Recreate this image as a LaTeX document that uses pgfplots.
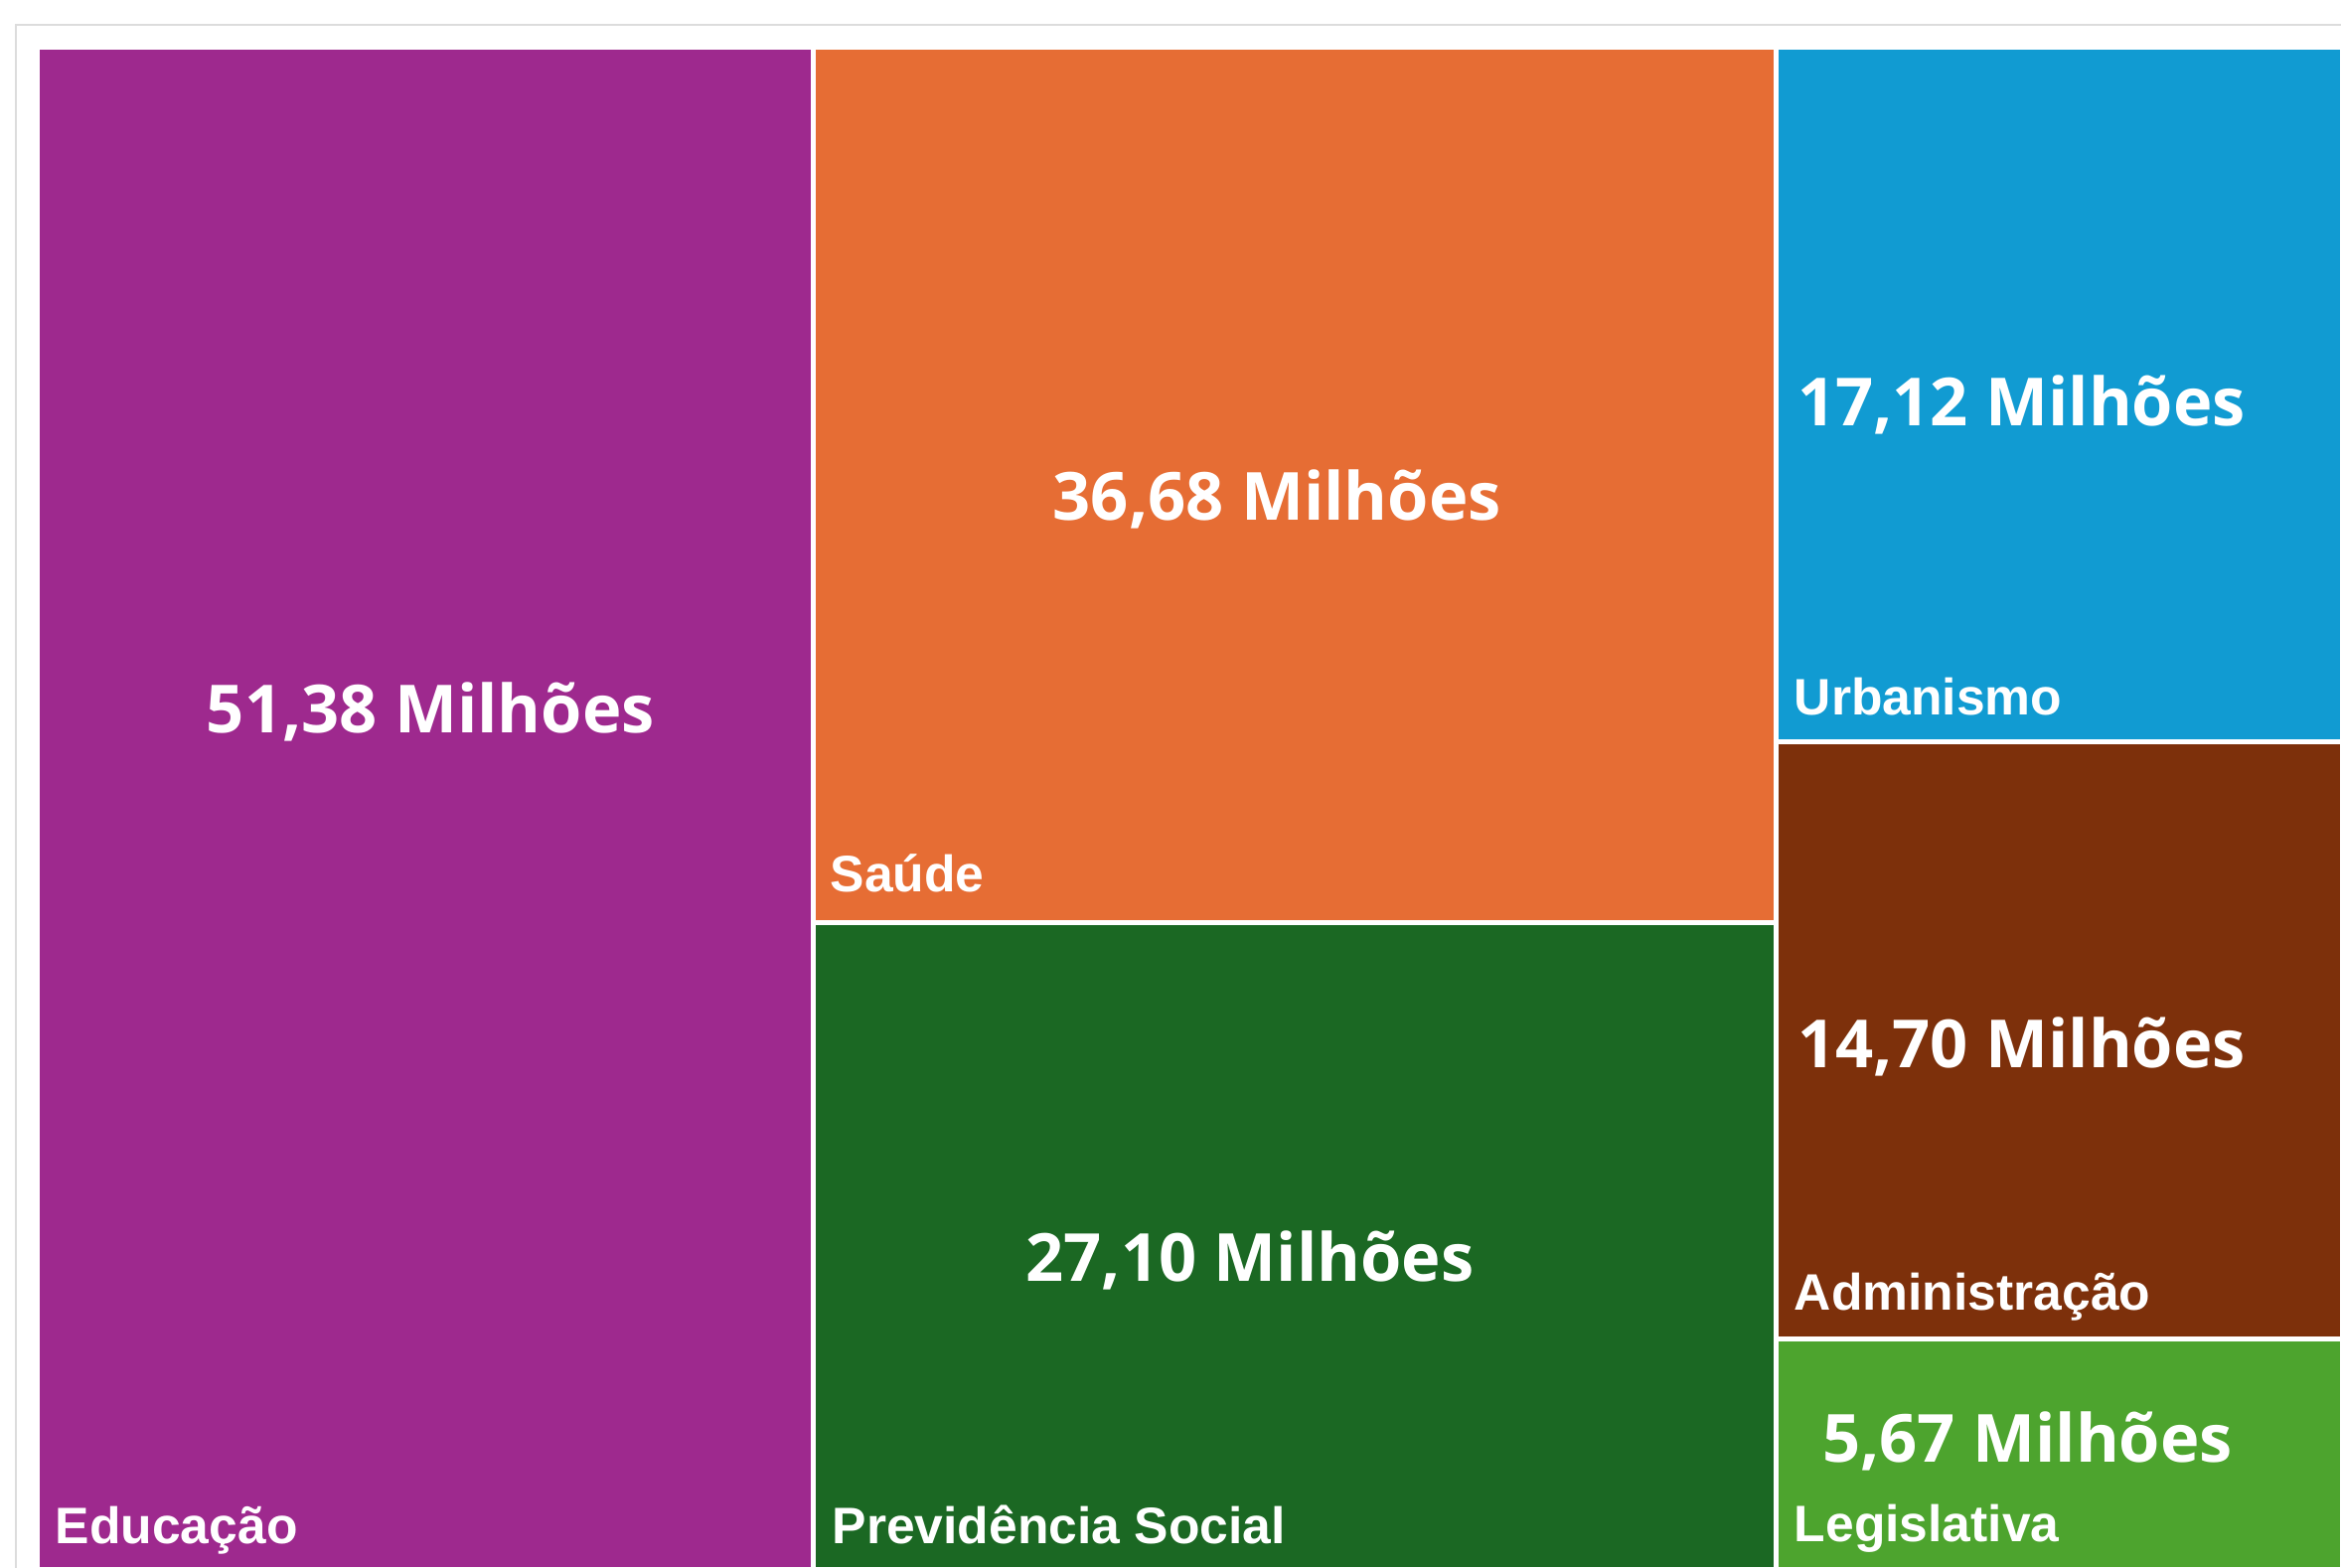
\documentclass[border=0pt]{standalone}
\usepackage{pgfplots}
\pgfplotsset{compat=1.18}
\usepackage{fontspec}
\setmainfont{Open Sans}
\newfontfamily\catfont{Liberation Sans}

% treemap colours
\definecolor{cEdu}{HTML}{9E298E}
\definecolor{cSau}{HTML}{E66D34}
\definecolor{cPrev}{HTML}{1B6823}
\definecolor{cUrb}{HTML}{119BD2}
\definecolor{cAdm}{HTML}{7D300B}
\definecolor{cLeg}{HTML}{4DA42E}
\definecolor{frame}{HTML}{DCDCDC}

\newcommand{\valfont}{\fontsize{16.7pt}{20pt}\selectfont\bfseries\color{white}}
\newcommand{\labfont}{\catfont\fontsize{12.9pt}{15pt}\selectfont\bfseries\color{white}}

\begin{document}
\begin{tikzpicture}
  % picture is 2356 x 1577 px, 1px = 0.25pt
  \useasboundingbox (0,0) rectangle (589pt,-394.25pt);
  \clip (0,0) rectangle (589pt,-394.25pt);
  \draw[frame, line width=0.4pt] (4pt,-400pt) -- (4pt,-6.25pt) -- (600pt,-6.25pt);

  \begin{axis}[
    at={(9.375pt,-11.75pt)}, anchor=north west,
    scale only axis, width=580pt, height=383pt,
    xmin=0, xmax=152.65, ymin=0, ymax=1,
    y dir=reverse, hide axis, clip=false,
    every axis plot/.append style={draw=white, line width=1.25pt, line join=miter, mark=none},
  ]
    % columns: 51.38 | 36.68 + 27.10 | 17.12 + 14.70 + 5.67
    \addplot[fill=cEdu]  coordinates {(0,0) (51.38,0) (51.38,1) (0,1)} --cycle;
    \addplot[fill=cSau]  coordinates {(51.38,0) (115.16,0) (115.16,0.5751) (51.38,0.5751)} --cycle;
    \addplot[fill=cPrev] coordinates {(51.38,0.5751) (115.16,0.5751) (115.16,1) (51.38,1)} --cycle;
    \addplot[fill=cUrb]  coordinates {(115.16,0) (152.65,0) (152.65,0.4567) (115.16,0.4567)} --cycle;
    \addplot[fill=cAdm]  coordinates {(115.16,0.4567) (152.65,0.4567) (152.65,0.8488) (115.16,0.8488)} --cycle;
    \addplot[fill=cLeg]  coordinates {(115.16,0.8488) (152.65,0.8488) (152.65,1) (115.16,1)} --cycle;

    \node[anchor=base, font=\valfont] at (axis cs:26.05,0.4504) {51,38 Milhões};
    \node[anchor=base, font=\valfont] at (axis cs:82.1,0.3107) {36,68 Milhões};
    \node[anchor=base, font=\valfont] at (axis cs:80.3,0.8107) {27,10 Milhões};
    \node[anchor=base, font=\valfont] at (axis cs:131.4,0.2487) {17,12 Milhões};
    \node[anchor=base, font=\valfont] at (axis cs:131.4,0.6704) {14,70 Milhões};
    \node[anchor=base, font=\valfont] at (axis cs:131.8,0.9300) {5,67 Milhões};

    \node[anchor=base west, inner sep=0pt, font=\labfont] at (axis cs:1.15,0.983) {Educação};
    \node[anchor=base west, inner sep=0pt, font=\labfont] at (axis cs:52.47,0.555) {Saúde};
    \node[anchor=base west, inner sep=0pt, font=\labfont] at (axis cs:52.6,0.983) {Previdência Social};
    \node[anchor=base west, inner sep=0pt, font=\labfont] at (axis cs:116.3,0.439) {Urbanismo};
    \node[anchor=base west, inner sep=0pt, font=\labfont] at (axis cs:116.3,0.830) {Administração};
    \node[anchor=base west, inner sep=0pt, font=\labfont] at (axis cs:116.3,0.982) {Legislativa};
  \end{axis}
\end{tikzpicture}
\end{document}
